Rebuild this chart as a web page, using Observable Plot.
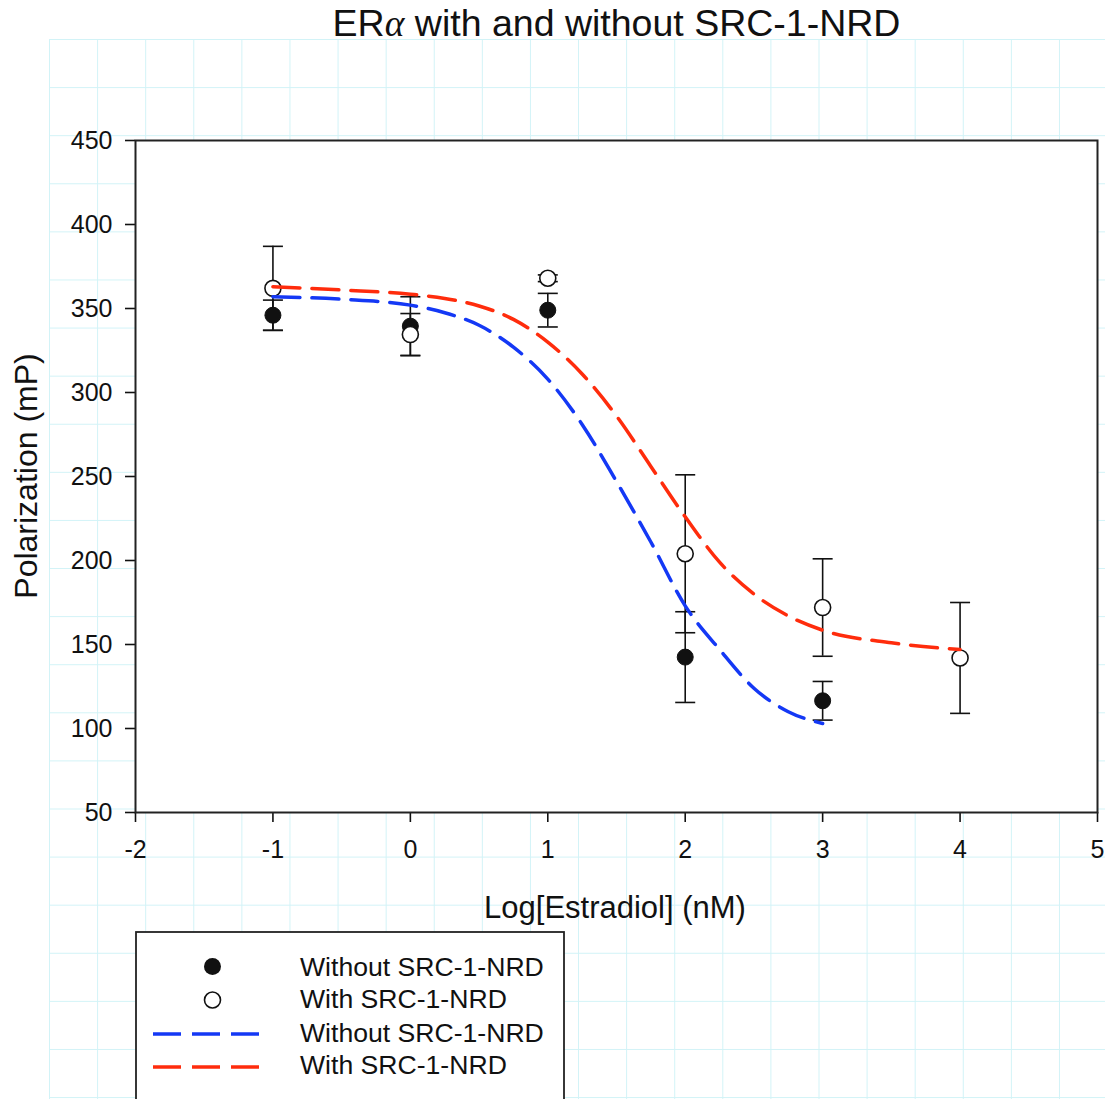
<!DOCTYPE html>
<html>
<head>
<meta charset="utf-8">
<script src="https://cdn.jsdelivr.net/npm/d3@7"></script>
<script src="https://cdn.jsdelivr.net/npm/@observablehq/plot@0.6"></script>
<style>
  html, body { margin: 0; padding: 0; background: #fff; }
  body { width: 1105px; height: 1099px; position: relative; overflow: hidden;
         font-family: "Liberation Sans", Arial, sans-serif; color: #111; }
  #grid { position: absolute; left: 48.5px; top: 38.8px; right: 0; bottom: 0;
          background-image:
            linear-gradient(to right, rgb(210,243,247) 1px, transparent 1px),
            linear-gradient(to bottom, rgb(210,243,247) 1px, transparent 1px);
          background-size: 48.1px 48.1px; }
  #chart { position: absolute; left: 0; top: 0; }
  .lbl { position: absolute; transform: translate(-50%, -50%); white-space: nowrap; line-height: 1; }
  #title { left: 616.5px; top: 24px; font-size: 37.5px; }
  #title .greek { font-family: "Liberation Serif", "DejaVu Serif", serif; font-style: italic; }
  #xlabel { left: 615px; top: 907px; font-size: 31px; }
  #ylabel { left: 26px; top: 476px; font-size: 32px; transform: translate(-50%, -50%) rotate(-90deg); }
  #legend { position: absolute; left: 135px; top: 931px; }
</style>
</head>
<body>
<div id="grid"></div>
<div id="chart"></div>
<div id="title" class="lbl">ER<span class="greek">α</span> with and without SRC-1-NRD</div>
<div id="xlabel" class="lbl">Log[Estradiol] (nM)</div>
<div id="ylabel" class="lbl">Polarization (mP)</div>
<svg id="legend" width="440" height="180"></svg>
<script>
// ---- tick values ----
const xTicks = [-2, -1, 0, 1, 2, 3, 4, 5];
const yTicks = [50, 100, 150, 200, 250, 300, 350, 400, 450];

// ---- measured points (mean ± error) ----
const withoutX    = [-1, 0, 1, 2, 3];
const withoutMean = [346, 339.5, 349, 142.5, 116.5];
const withoutErr  = [9, 17.5, 10, 27, 11.5];

const withX    = [-1, 0, 1, 2, 3, 4];
const withMean = [362, 334.5, 368, 204, 172, 142];
const withErr  = [25, 12.5, 2, 47, 29, 33];

// ---- fitted curves ----
const blueX = [-1, -0.5, 0, 0.25, 0.5, 0.75, 1, 1.25, 1.5, 1.75, 2, 2.25, 2.5, 2.75, 3];
const blueY = [357, 355.5, 352, 347.5, 340, 327, 308, 281, 247, 211, 173, 147, 124, 110, 103];
const redX  = [-1, -0.5, 0, 0.25, 0.5, 0.75, 1, 1.25, 1.5, 1.75, 2, 2.25, 2.5, 2.75, 3, 3.5, 4];
const redY  = [363, 361, 358.5, 356, 351.5, 343.5, 330, 311, 286, 256, 226, 199, 180, 167, 158.5, 151, 147];

const legendLabels = ["Without SRC-1-NRD", "With SRC-1-NRD", "Without SRC-1-NRD", "With SRC-1-NRD"];

const BLUE = "#1438f5";
const RED = "#ff2c0c";
const INK = "#111";

const without = withoutX.map((x, i) => ({x, y: withoutMean[i], e: withoutErr[i]}));
const withD = withX.map((x, i) => ({x, y: withMean[i], e: withErr[i]}));
const blue = blueX.map((x, i) => ({x, y: blueY[i]}));
const red = redX.map((x, i) => ({x, y: redY[i]}));

const capSymbol = {
  draw(context, size) {
    const r = Math.sqrt(size / Math.PI);
    context.moveTo(-r, 0);
    context.lineTo(r, 0);
  }
};

function errMarks(data) {
  return [
    Plot.ruleX(data, {x: "x", y1: d => d.y - d.e, y2: d => d.y + d.e, stroke: INK, strokeWidth: 1.6}),
    Plot.dot(data, {x: "x", y: d => d.y - d.e, symbol: capSymbol, r: 10, stroke: INK, strokeWidth: 1.6}),
    Plot.dot(data, {x: "x", y: d => d.y + d.e, symbol: capSymbol, r: 10, stroke: INK, strokeWidth: 1.6})
  ];
}

const fmt = d => (d < 0 ? "-" + Math.abs(d) : String(d));

const chart = Plot.plot({
  width: 1105,
  height: 930,
  marginLeft: 135,
  marginRight: 8,
  marginTop: 140,
  marginBottom: 118,
  style: {background: "transparent", fontFamily: "'Liberation Sans', Arial, sans-serif", fontSize: "25px", color: INK, overflow: "visible"},
  x: {domain: [-2, 5]},
  y: {domain: [50, 450]},
  marks: [
    Plot.frame({fill: "white"}),
    Plot.axisX({ticks: xTicks, tickFormat: fmt, tickSize: 10, tickPadding: 18, label: null, stroke: INK, strokeWidth: 1.6, fontSize: 25}),
    Plot.axisY({ticks: yTicks, tickFormat: fmt, tickSize: 10, tickPadding: 13, label: null, stroke: INK, strokeWidth: 1.6, fontSize: 25}),
    ...errMarks(without),
    ...errMarks(withD),
    Plot.dot(without, {x: "x", y: "y", r: 8, fill: INK, stroke: INK, strokeWidth: 1}),
    Plot.dot(withD, {x: "x", y: "y", r: 8, fill: "white", stroke: INK, strokeWidth: 1.6}),
    Plot.line(blue, {x: "x", y: "y", curve: "monotone-x", stroke: BLUE, strokeWidth: 3.5, strokeDasharray: "27,12"}),
    Plot.line(red, {x: "x", y: "y", curve: "monotone-x", stroke: RED, strokeWidth: 3.5, strokeDasharray: "27,12"}),
    Plot.frame({stroke: "#222", strokeWidth: 2})
  ]
});
document.getElementById("chart").appendChild(chart);

// ---- legend ----
const lg = d3.select("#legend");
lg.append("rect").attr("x", 1).attr("y", 1).attr("width", 428).attr("height", 240)
  .attr("fill", "white").attr("stroke", "#222").attr("stroke-width", 1.8);
const rowsY = [35.5, 69, 103, 136];
const baseY = [44.5, 77, 110.5, 143];
lg.append("circle").attr("cx", 77.5).attr("cy", rowsY[0]).attr("r", 8.5).attr("fill", INK);
lg.append("circle").attr("cx", 77.5).attr("cy", rowsY[1]).attr("r", 8).attr("fill", "white").attr("stroke", INK).attr("stroke-width", 1.6);
lg.append("line").attr("x1", 18).attr("x2", 124).attr("y1", rowsY[2]).attr("y2", rowsY[2])
  .attr("stroke", BLUE).attr("stroke-width", 3.5).attr("stroke-dasharray", "28,11");
lg.append("line").attr("x1", 18).attr("x2", 124).attr("y1", rowsY[3]).attr("y2", rowsY[3])
  .attr("stroke", RED).attr("stroke-width", 3.5).attr("stroke-dasharray", "28,11");
legendLabels.forEach((t, i) => {
  lg.append("text").attr("x", 165).attr("y", baseY[i]).text(t)
    .attr("font-family", "'Liberation Sans', Arial, sans-serif").attr("font-size", 26.6).attr("fill", INK);
});
</script>
</body>
</html>
